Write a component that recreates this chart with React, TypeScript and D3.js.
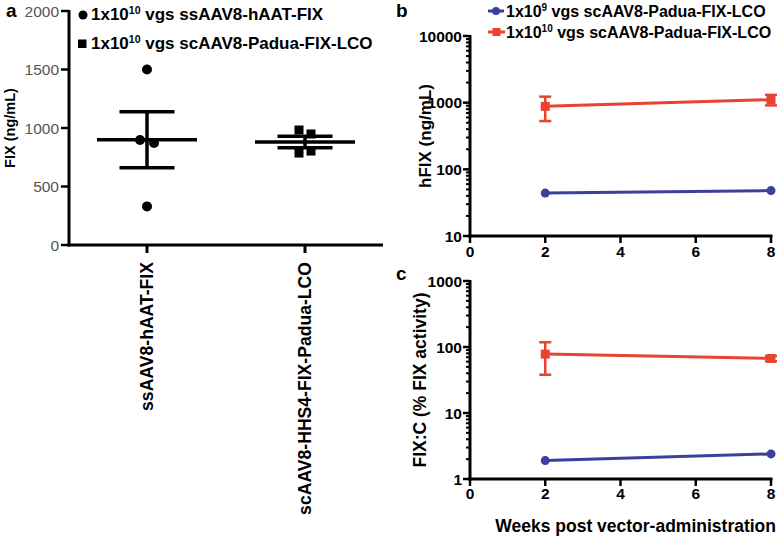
import React from "react";
import * as d3 from "d3";

// ---------- Data ----------
const groupsA = ["ssAAV8-hAAT-FIX", "scAAV8-HHS4-FIX-Padua-LCO"];
const valuesA1 = [1500, 897, 872, 330];
const valuesA2 = [983, 949, 786, 803];
const yTicksA = [0, 500, 1000, 1500, 2000];

const weeks = [2, 8];
const hfixLow = [44, 48];
const hfixHigh = [880, 1110];
const hfixHighErr = [350, 200];

const fixcLow = [1.9, 2.4];
const fixcHigh = [78, 67];
const fixcHighErr = [40, 6];

const xTicksW = [0, 2, 4, 6, 8];
const yTicksB = [10, 100, 1000, 10000];
const yTicksC = [1, 10, 100, 1000];

const RED = "#e8432e";
const BLUE = "#3b3f9e";
const FONT = "'Liberation Sans', Arial, Helvetica, sans-serif";

const jitter = [0, -7, 7, 0];
const jitter2 = [-6, 6, -6, 6];

function meanSem(v: number[]) {
  const m = d3.mean(v)!;
  const sd = d3.deviation(v)!;
  return { m, sem: sd / Math.sqrt(v.length) };
}

function LogPanel({
  y0, y1, domain, ticks, low, high, highErr, label, labelX, labelSize, xLabelY,
}: any) {
  const x = d3.scaleLinear().domain([0, 8]).range([470, 771]);
  const y = d3.scaleLog().domain(domain).range([y0, y1]);
  const minor: number[] = [];
  for (let p = domain[0]; p < domain[1]; p *= 10) {
    for (let k = 2; k <= 9; k++) minor.push(p * k);
  }
  const line = d3.line<[number, number]>().x(d => x(d[0])).y(d => y(d[1]));
  const lowPts = weeks.map((w, i) => [w, low[i]] as [number, number]);
  const highPts = weeks.map((w, i) => [w, high[i]] as [number, number]);
  return (
    <g>
      <line x1={x(0)} x2={x(0)} y1={y(domain[1]) - 1} y2={y(domain[0]) + 1.5} stroke="#000" strokeWidth={3} />
      <line x1={x(0) - 1.5} x2={x(8) + 1.5} y1={y(domain[0])} y2={y(domain[0])} stroke="#000" strokeWidth={3} />
      {minor.map((t, i) => (
        <line key={"m" + i} x1={x(0) - 4} x2={x(0)} y1={y(t)} y2={y(t)} stroke="#000" strokeWidth={2} />
      ))}
      {ticks.map((t: number) => (
        <g key={"t" + t}>
          <line x1={x(0) - 7} x2={x(0)} y1={y(t)} y2={y(t)} stroke="#000" strokeWidth={2.5} />
          <text x={x(0) - 8} y={y(t) + 5.5} textAnchor="end" fontSize={15.5} fontWeight="bold" fontFamily={FONT}>{t}</text>
        </g>
      ))}
      {xTicksW.map(t => (
        <g key={"x" + t}>
          <line x1={x(t)} x2={x(t)} y1={y(domain[0])} y2={y(domain[0]) + 7} stroke="#000" strokeWidth={2.5} />
          <text x={x(t)} y={xLabelY} textAnchor="middle" fontSize={15.5} fontWeight="bold" fontFamily={FONT}>{t}</text>
        </g>
      ))}
      <text transform={`translate(${labelX},${(y0 + y1) / 2}) rotate(-90)`} textAnchor="middle" fontSize={labelSize} fontWeight="bold" fontFamily={FONT}>{label}</text>
      <path d={line(highPts)!} fill="none" stroke={RED} strokeWidth={3} />
      {weeks.map((w, i) => (
        <g key={"r" + i}>
          <line x1={x(w)} x2={x(w)} y1={y(high[i] + highErr[i])} y2={y(Math.max(high[i] - highErr[i], domain[0]))} stroke={RED} strokeWidth={2.5} />
          <line x1={x(w) - 6} x2={x(w) + 6} y1={y(high[i] + highErr[i])} y2={y(high[i] + highErr[i])} stroke={RED} strokeWidth={2.5} />
          <line x1={x(w) - 6} x2={x(w) + 6} y1={y(high[i] - highErr[i])} y2={y(high[i] - highErr[i])} stroke={RED} strokeWidth={2.5} />
          <rect x={x(w) - 4.5} y={y(high[i]) - 4.5} width={9} height={9} fill={RED} />
        </g>
      ))}
      <path d={line(lowPts)!} fill="none" stroke={BLUE} strokeWidth={3} />
      {weeks.map((w, i) => (
        <circle key={"b" + i} cx={x(w)} cy={y(low[i])} r={4.5} fill={BLUE} />
      ))}
    </g>
  );
}

export default function App() {
  const yA = d3.scaleLinear().domain([0, 2000]).range([245, 11]);
  const xA = d3.scalePoint().domain(groupsA).range([147, 305]);
  const stats = [meanSem(valuesA1), meanSem(valuesA2)];

  return (
    <svg width={777} height={538} style={{ position: "absolute", left: 0, top: 0, background: "#fff" }}>
      <rect width={777} height={538} fill="#fff" />
      {/* ---------- Panel a ---------- */}
      <text x={6} y={17} fontSize={19} fontWeight="bold" fontFamily={FONT}>a</text>
      <line x1={69} x2={69} y1={yA(2000) - 1} y2={yA(0) + 1.5} stroke="#000" strokeWidth={3} />
      <line x1={67.5} x2={383} y1={yA(0)} y2={yA(0)} stroke="#000" strokeWidth={3} />
      {yTicksA.map(t => (
        <g key={t}>
          <line x1={61} x2={69} y1={yA(t)} y2={yA(t)} stroke="#000" strokeWidth={2.5} />
          <text x={59} y={yA(t) + 5.5} textAnchor="end" fontSize={15.5} fill="#555" fontFamily={FONT}>{t}</text>
        </g>
      ))}
      {groupsA.map(g => (
        <g key={g}>
          <line x1={xA(g)} x2={xA(g)} y1={yA(0)} y2={yA(0) + 8} stroke="#000" strokeWidth={3} />
          <text transform={`translate(${xA(g)! + 6},262) rotate(-90)`} textAnchor="end" fontSize={17.6} fontWeight="bold" fontFamily={FONT}>{g}</text>
        </g>
      ))}
      <text transform={`translate(15,128) rotate(-90)`} textAnchor="middle" fontSize={14.5} fontWeight="bold" fontFamily={FONT}>FIX (ng/mL)</text>

      {valuesA1.map((v, i) => (
        <circle key={"c" + i} cx={xA(groupsA[0])! + jitter[i]} cy={yA(v)} r={5} fill="#000" />
      ))}
      {valuesA2.map((v, i) => (
        <rect key={"s" + i} x={xA(groupsA[1])! + jitter2[i] - 4.5} y={yA(v) - 4.5} width={9} height={9} fill="#000" />
      ))}
      {groupsA.map((g, i) => {
        const cx = xA(g)!;
        const st = stats[i];
        return (
          <g key={"ms" + g} stroke="#000" strokeWidth={3.5}>
            <line x1={cx - 50} x2={cx + 50} y1={yA(st.m)} y2={yA(st.m)} />
            <line x1={cx} x2={cx} y1={yA(st.m + st.sem)} y2={yA(st.m - st.sem)} />
            <line x1={cx - 27.5} x2={cx + 27.5} y1={yA(st.m + st.sem)} y2={yA(st.m + st.sem)} />
            <line x1={cx - 27.5} x2={cx + 27.5} y1={yA(st.m - st.sem)} y2={yA(st.m - st.sem)} />
          </g>
        );
      })}
      <circle cx={83} cy={15} r={4.5} fill="#000" />
      <text x={91} y={20} fontSize={17} fontWeight="bold" fontFamily={FONT}>
        1x10<tspan fontSize={10.5} dy={-6}>10</tspan><tspan dy={6}> vgs ssAAV8-hAAT-FIX</tspan>
      </text>
      <rect x={78} y={39.5} width={8.5} height={8.5} fill="#000" />
      <text x={91} y={49} fontSize={17} fontWeight="bold" fontFamily={FONT}>
        1x10<tspan fontSize={10.5} dy={-6}>10</tspan><tspan dy={6}> vgs scAAV8-Padua-FIX-LCO</tspan>
      </text>

      {/* ---------- Panel b ---------- */}
      <text x={396} y={17} fontSize={19} fontWeight="bold" fontFamily={FONT}>b</text>
      <LogPanel y0={236} y1={36} domain={[10, 10000]} ticks={yTicksB} low={hfixLow} high={hfixHigh} highErr={hfixHighErr}
        label="hFIX (ng/mL)" labelX={431} labelSize={17} xLabelY={257} />
      <line x1={488} x2={504} y1={11} y2={11} stroke={BLUE} strokeWidth={3} />
      <circle cx={496} cy={11} r={4} fill={BLUE} />
      <text x={506} y={17} fontSize={16} fontWeight="bold" fontFamily={FONT}>
        1x10<tspan fontSize={10} dy={-6}>9</tspan><tspan dy={6}> vgs scAAV8-Padua-FIX-LCO</tspan>
      </text>
      <line x1={488} x2={505} y1={32} y2={32} stroke={RED} strokeWidth={3} />
      <rect x={492.5} y={28} width={8} height={8} fill={RED} />
      <text x={506} y={38} fontSize={16} fontWeight="bold" fontFamily={FONT}>
        1x10<tspan fontSize={10} dy={-6}>10</tspan><tspan dy={6}> vgs scAAV8-Padua-FIX-LCO</tspan>
      </text>

      {/* ---------- Panel c ---------- */}
      <text x={396} y={280} fontSize={19} fontWeight="bold" fontFamily={FONT}>c</text>
      <LogPanel y0={479} y1={281} domain={[1, 1000]} ticks={yTicksC} low={fixcLow} high={fixcHigh} highErr={fixcHighErr}
        label="FIX:C (% FIX activity)" labelX={426} labelSize={17.5} xLabelY={499} />
      <text x={776} y={532} textAnchor="end" fontSize={17.5} fontWeight="bold" fontFamily={FONT}>Weeks post vector-administration</text>
    </svg>
  );
}
